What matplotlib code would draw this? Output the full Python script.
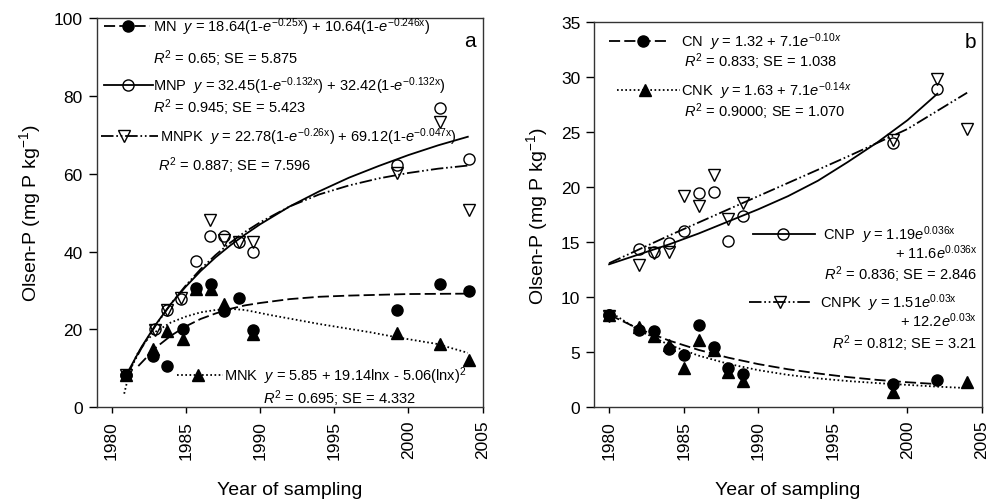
import matplotlib
matplotlib.use("Agg")
import matplotlib.pyplot as plt

plt.rcParams["font.family"] = ["Liberation Sans", "DejaVu Sans"]
plt.rcParams["mathtext.fontset"] = "custom"
plt.rcParams["mathtext.rm"] = "Liberation Sans"
plt.rcParams["mathtext.it"] = "Liberation Sans:italic"
plt.rcParams["mathtext.bf"] = "Liberation Sans:bold"
plt.rcParams["lines.scale_dashes"] = False

# ─── DATA: panel a (manure treatments) ──────────────────────────────────────
mn_year = [1981, 1982.8, 1983.75, 1984.8, 1985.7, 1986.7, 1987.6, 1988.6, 1989.5, 1999.2, 2002.1, 2004.1]
mn_p = [8.3, 13.2, 10.5, 20.1, 30.6, 31.7, 24.8, 28.1, 19.9, 25.1, 31.7, 29.9]

mnk_year = [1981, 1982.8, 1983.75, 1984.8, 1985.7, 1986.7, 1987.6, 1989.5, 1999.2, 2002.1, 2004.1]
mnk_p = [8.3, 15.0, 19.7, 17.5, 30.4, 30.3, 26.5, 18.9, 19.0, 16.3, 12.2]

mnp_year = [1981, 1982.9, 1983.75, 1984.7, 1985.7, 1986.6, 1987.6, 1988.6, 1989.5, 1999.2, 2002.1, 2004.1]
mnp_p = [8.4, 20.1, 25.0, 27.8, 37.5, 44.1, 43.9, 42.5, 40.0, 62.3, 76.8, 63.9]

mnpk_year = [1981, 1982.9, 1983.75, 1984.7, 1986.6, 1987.6, 1988.6, 1989.5, 1999.2, 2002.1, 2004.1]
mnpk_p = [8.3, 19.9, 25.0, 28.0, 48.2, 43.0, 42.5, 42.5, 60.3, 73.2, 50.7]

# fitted curves as drawn in panel a
mn_fit_year = [1981.8, 1983, 1984, 1985, 1986, 1987, 1988, 1989, 1990, 1992, 1994, 1996, 1998, 2000, 2002, 2004]
mn_fit = [10.6, 15.4, 18.4, 20.8, 22.7, 24.1, 25.3, 26.2, 26.8, 27.8, 28.4, 28.7, 28.9, 29.1, 29.15, 29.2]

mnk_fit_year = [1980.85, 1981.2, 1981.7, 1982.3, 1983, 1984, 1985, 1986, 1987, 1988, 1989, 1990.7, 1994, 1997.4, 1999.2, 2001.9, 2004]
mnk_fit = [3.5, 9.0, 13.5, 17.0, 19.5, 21.8, 23.3, 24.4, 25.0, 25.3, 25.0, 23.7, 21.4, 19.3, 18.0, 16.3, 14.0]

mnp_fit_year = [1981, 1982, 1983, 1984, 1985, 1986, 1987, 1988, 1989, 1990, 1992, 1994, 1996, 1998, 2000, 2002, 2004]
mnp_fit = [8.4, 15.4, 21.4, 26.6, 31.0, 35.0, 38.5, 41.6, 44.4, 47.0, 51.6, 55.5, 59.0, 62.0, 64.8, 67.3, 69.5]
mnpk_fit = [8.0, 15.1, 21.2, 26.6, 31.3, 35.5, 39.1, 42.3, 45.1, 47.5, 51.6, 54.7, 57.0, 58.8, 60.2, 61.3, 62.1]

# ─── DATA: panel b (chemical fertilizer treatments) ─────────────────────────
cn_year = [1980, 1982, 1983, 1984, 1985, 1986, 1987, 1988, 1989, 1999, 2002]
cn_p = [8.4, 7.0, 6.9, 5.3, 4.75, 7.5, 5.45, 3.6, 3.0, 2.1, 2.5]

cnk_year = [1980, 1982, 1983, 1984, 1985, 1986, 1987, 1988, 1989, 1999, 2004]
cnk_p = [8.4, 7.3, 6.45, 5.7, 3.6, 6.15, 5.2, 3.25, 2.4, 1.36, 2.3]

cnp_year = [1980, 1982, 1983, 1984, 1985, 1986, 1987, 1988, 1989, 1999, 2002]
cnp_p = [8.4, 14.4, 14.1, 14.9, 16.0, 19.5, 19.6, 15.1, 17.4, 24.0, 28.9]

cnpk_year = [1980, 1982, 1983, 1984, 1985, 1986, 1987, 1988, 1989, 1999, 2002, 2004]
cnpk_p = [8.3, 12.9, 14.0, 14.15, 19.2, 18.3, 21.1, 17.1, 18.6, 24.3, 29.8, 25.3]

cn_fit_year = [1980, 1982, 1984, 1986, 1988, 1990, 1992, 1994, 1996, 1998, 2000, 2002]
cn_fit = [8.42, 7.13, 6.08, 5.22, 4.51, 3.93, 3.46, 3.08, 2.75, 2.49, 2.28, 2.11]

cnk_fit_year = [1980, 1982, 1984, 1986, 1988, 1990, 1992, 1994, 1996, 1998, 2000, 2002, 2004]
cnk_fit = [8.73, 7.0, 5.69, 4.70, 3.95, 3.38, 2.95, 2.63, 2.39, 2.20, 2.04, 1.88, 1.75]

cnp_fit_year = [1980, 1982, 1984, 1986, 1988, 1990, 1992, 1994, 1996, 1998, 2000, 2002]
cnp_fit = [13.0, 13.9, 14.8, 15.8, 16.9, 18.0, 19.2, 20.6, 22.3, 24.1, 26.1, 28.5]

cnpk_fit_year = [1980, 1984, 1988, 1992, 1996, 2000, 2004]
cnpk_fit = [13.1, 15.6, 18.0, 20.4, 22.8, 25.3, 28.6]

# ─── STYLES ─────────────────────────────────────────────────────────────────
DASH = (0, (8, 3))
DOT = (0, (1.2, 1.8))
DASHDOTDOT = (0, (9, 2, 1.2, 2, 1.2, 2))
LW = 1.3
MS = 8

filled_circle = dict(marker="o", ms=MS, mfc="black", mec="black", ls="none")
filled_tri = dict(marker="^", ms=MS, mfc="black", mec="black", ls="none")
open_circle = dict(marker="o", ms=MS, mfc="none", mec="black", mew=1.0, ls="none")
open_tri = dict(marker="v", ms=MS, mfc="none", mec="black", mew=1.0, ls="none")

fig = plt.figure(figsize=(9.87, 5.02), dpi=100)
ax_a = fig.add_axes([0.098, 0.1866, 0.391, 0.7755])
ax_b = fig.add_axes([0.602, 0.1866, 0.393, 0.767])


def style_axes(ax, ymax, ystep):
    ax.set_xlim(1979, 2005)
    ax.set_ylim(0, ymax)
    ax.set_xticks(range(1980, 2006, 5))
    ax.set_yticks(range(0, ymax + 1, ystep))
    ax.tick_params(axis="x", direction="out", length=4, width=1, pad=5,
                   labelsize=12.5, labelrotation=90)
    ax.tick_params(axis="y", direction="out", length=6, width=1, pad=4,
                   labelsize=12.5)
    for sp in ax.spines.values():
        sp.set_linewidth(1.0)
        sp.set_color("#333333")
    ax.set_xlabel("Year of sampling", fontsize=14, labelpad=16)
    ax.set_ylabel("Olsen-P (mg P kg$^{-1}$)", fontsize=14, labelpad=8)


def legend_sample(ax, x0, x1, xm, y, ls, mk):
    ax.plot([x0, x1], [y, y], color="black", lw=LW, ls=ls,
            transform=ax.transAxes, clip_on=False)
    ax.plot([xm], [y], transform=ax.transAxes, clip_on=False, **mk)


TXT = 10.5

# ─── PANEL a ────────────────────────────────────────────────────────────────
ax = ax_a
ax.plot(mn_year, mn_p, **filled_circle)
ax.plot(mnk_year, mnk_p, **filled_tri)
ax.plot(mnp_year, mnp_p, **open_circle)
ax.plot(mnpk_year, mnpk_p, **open_tri)
ax.plot(mn_fit_year, mn_fit, color="black", lw=LW, ls=DASH)
ax.plot(mnk_fit_year, mnk_fit, color="black", lw=LW, ls=DOT)
ax.plot(mnp_fit_year, mnp_fit, color="black", lw=LW, ls="-")
ax.plot(mnp_fit_year, mnpk_fit, color="black", lw=LW, ls=DASHDOTDOT)
style_axes(ax, 100, 20)

legend_sample(ax, 0.019, 0.138, 0.081, 0.979, DASH, filled_circle)
ax.text(0.146, 0.979, r"MN  $y$ = 18.64(1-$e^{\mathrm{-0.25x}}$) + 10.64(1-$e^{\mathrm{-0.246x}}$)",
        transform=ax.transAxes, fontsize=TXT, va="center")
ax.text(0.146, 0.897, r"$R^2$ = 0.65; SE = 5.875", transform=ax.transAxes,
        fontsize=TXT, va="center")
legend_sample(ax, 0.019, 0.146, 0.081, 0.828, "-", open_circle)
ax.text(0.146, 0.828, r"MNP  $y$ = 32.45(1-$e^{\mathrm{-0.132x}}$) + 32.42(1-$e^{\mathrm{-0.132x}}$)",
        transform=ax.transAxes, fontsize=TXT, va="center")
ax.text(0.146, 0.771, r"$R^2$ = 0.945; SE = 5.423", transform=ax.transAxes,
        fontsize=TXT, va="center")
legend_sample(ax, 0.011, 0.160, 0.071, 0.697, DASHDOTDOT, open_tri)
ax.text(0.164, 0.697, r"MNPK  $y$ = 22.78(1-$e^{\mathrm{-0.26x}}$) + 69.12(1-$e^{\mathrm{-0.047x}}$)",
        transform=ax.transAxes, fontsize=TXT, va="center")
ax.text(0.159, 0.622, r"$R^2$ = 0.887; SE = 7.596", transform=ax.transAxes,
        fontsize=TXT, va="center")
legend_sample(ax, 0.208, 0.327, 0.262, 0.082, DOT, filled_tri)
ax.text(0.330, 0.082, r"MNK  $y$ = 5.85 + 19.14lnx - 5.06(lnx)$^2$",
        transform=ax.transAxes, fontsize=TXT, va="center")
ax.text(0.430, 0.026, r"$R^2$ = 0.695; SE = 4.332", transform=ax.transAxes,
        fontsize=TXT, va="center")
ax.text(0.966, 0.943, "a", transform=ax.transAxes, fontsize=15,
        ha="center", va="center")

# ─── PANEL b ────────────────────────────────────────────────────────────────
ax = ax_b
ax.plot(cn_year, cn_p, **filled_circle)
ax.plot(cnk_year, cnk_p, **filled_tri)
ax.plot(cnp_year, cnp_p, **open_circle)
ax.plot(cnpk_year, cnpk_p, **open_tri)
ax.plot(cn_fit_year, cn_fit, color="black", lw=LW, ls=DASH)
ax.plot(cnk_fit_year, cnk_fit, color="black", lw=LW, ls=DOT)
ax.plot(cnp_fit_year, cnp_fit, color="black", lw=LW, ls="-")
ax.plot(cnpk_fit_year, cnpk_fit, color="black", lw=LW, ls=DASHDOTDOT)
style_axes(ax, 35, 5)

legend_sample(ax, 0.039, 0.196, 0.126, 0.951, DASH, filled_circle)
ax.text(0.224, 0.951, r"CN  $y$ = 1.32 + 7.1$e^{-0.10x}$", transform=ax.transAxes,
        fontsize=TXT, va="center")
ax.text(0.232, 0.900, r"$R^2$ = 0.833; SE = 1.038", transform=ax.transAxes,
        fontsize=TXT, va="center")
legend_sample(ax, 0.059, 0.222, 0.131, 0.824, DOT, filled_tri)
ax.text(0.224, 0.824, r"CNK  $y$ = 1.63 + 7.1$e^{-0.14x}$", transform=ax.transAxes,
        fontsize=TXT, va="center")
ax.text(0.232, 0.770, r"$R^2$ = 0.9000; SE = 1.070", transform=ax.transAxes,
        fontsize=TXT, va="center")
legend_sample(ax, 0.410, 0.570, 0.487, 0.450, "-", open_circle)
ax.text(0.590, 0.450, r"CNP  $y$ = 1.19$e^{\mathrm{0.036x}}$", transform=ax.transAxes,
        fontsize=TXT, va="center")
ax.text(0.987, 0.403, r"+ 11.6$e^{\mathrm{0.036x}}$", transform=ax.transAxes,
        fontsize=TXT, va="center", ha="right")
ax.text(0.987, 0.346, r"$R^2$ = 0.836; SE = 2.846", transform=ax.transAxes,
        fontsize=TXT, va="center", ha="right")
legend_sample(ax, 0.399, 0.557, 0.479, 0.273, DASHDOTDOT, open_tri)
ax.text(0.582, 0.273, r"CNPK  $y$ = 1.51$e^{\mathrm{0.03x}}$", transform=ax.transAxes,
        fontsize=TXT, va="center")
ax.text(0.987, 0.227, r"+ 12.2$e^{\mathrm{0.03x}}$", transform=ax.transAxes,
        fontsize=TXT, va="center", ha="right")
ax.text(0.987, 0.167, r"$R^2$ = 0.812; SE = 3.21", transform=ax.transAxes,
        fontsize=TXT, va="center", ha="right")
ax.text(0.969, 0.951, "b", transform=ax.transAxes, fontsize=15,
        ha="center", va="center")

fig.savefig("out.png", dpi=100)
